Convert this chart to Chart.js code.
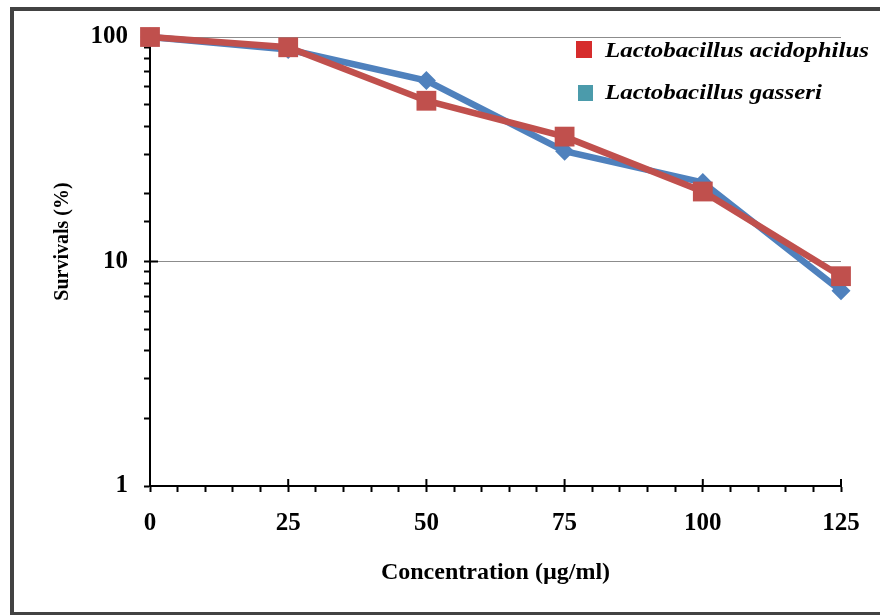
<!DOCTYPE html>
<html><head><meta charset="utf-8">
<script src="https://cdn.jsdelivr.net/npm/chart.js@4.4.1/dist/chart.umd.min.js"></script>
<style>
html,body{margin:0;padding:0;background:#fff;overflow:hidden;width:880px;height:615px;}
#frame{position:absolute;left:10px;top:7px;width:900px;height:601px;border:4px solid #424242;}
#c{position:absolute;left:0;top:0;}
</style></head><body>
<div id="frame"></div>
<canvas id="c" width="880" height="615"></canvas>
<script>
const concentrations = [0, 25, 50, 75, 100, 125];
const acidophilus = [100, 90, 52, 36, 20.5, 8.6];
const gasseri = [100, 88, 64, 31, 22.5, 7.4];
const seriesNames = ['Lactobacillus acidophilus', 'Lactobacillus gasseri'];
const lineColors = ['#c0504d', '#4f81bd'];
const legendColors = ['#d62c2c', '#4b9bab'];
const yTickLabels = [1, 10, 100];
const xTickLabels = [0, 25, 50, 75, 100, 125];
const xTitle = 'Concentration (\u00b5g/ml)';
const yTitle = 'Survivals (%)';

const serif = '"Liberation Serif", "Times New Roman", serif';

const extras = {
  id: 'extras',
  beforeDatasetsDraw(chart) {
    const ctx = chart.ctx, a = chart.chartArea, xs = chart.scales.x, ys = chart.scales.y;
    ctx.save();
    ctx.strokeStyle = '#000';
    ctx.lineWidth = 2;
    ctx.beginPath();
    yTickLabels.forEach(v => {
      if (v === yTickLabels[0]) return;
      const p = ys.getPixelForValue(v);
      ctx.moveTo(a.left, p); ctx.lineTo(a.left + 8, p);
    });
    xTickLabels.forEach(v => {
      if (v === xTickLabels[0]) return;
      const p = xs.getPixelForValue(v);
      ctx.moveTo(p, a.bottom); ctx.lineTo(p, a.bottom - 7);
    });
    ctx.stroke();
    ctx.restore();
  },
  afterDraw(chart) {
    const ctx = chart.ctx;
    ctx.save();
    ctx.font = 'italic bold 21px ' + serif;
    ctx.fillStyle = '#000';
    ctx.textBaseline = 'alphabetic';
    const w0 = ctx.measureText(seriesNames[0]).width;
    const sx = 264 / w0;
    const rows = [{sq: [576, 41, 16, 17], tx: 605, ty: 57}, {sq: [578, 85, 15, 16], tx: 605, ty: 99}];
    seriesNames.forEach((name, i) => {
      const r = rows[i];
      ctx.fillStyle = legendColors[i];
      ctx.fillRect(r.sq[0], r.sq[1], r.sq[2], r.sq[3]);
      ctx.fillStyle = '#000';
      ctx.save();
      ctx.translate(r.tx, r.ty);
      ctx.scale(sx, 1);
      ctx.fillText(name, 0, 0);
      ctx.restore();
    });
    ctx.restore();
  }
};

new Chart(document.getElementById('c'), {
  type: 'line',
  data: {
    datasets: [
      {
        label: seriesNames[0],
        data: concentrations.map((c, i) => ({x: c, y: acidophilus[i]})),
        borderColor: lineColors[0],
        backgroundColor: lineColors[0],
        borderWidth: 6.5,
        pointStyle: 'rect',
        pointRadius: 14,
        pointHoverRadius: 14,
        pointBorderWidth: 0,
        clip: false,
        tension: 0
      },
      {
        label: seriesNames[1],
        data: concentrations.map((c, i) => ({x: c, y: gasseri[i]})),
        borderColor: lineColors[1],
        backgroundColor: lineColors[1],
        borderWidth: 6.5,
        pointStyle: 'rectRot',
        pointRadius: 9.5,
        pointHoverRadius: 9.5,
        pointBorderWidth: 0,
        clip: false,
        tension: 0
      }
    ]
  },
  options: {
    responsive: false,
    animation: false,
    events: [],
    layout: {padding: {top: 37, right: 39, left: 0, bottom: 0}},
    plugins: {legend: {display: false}, tooltip: {enabled: false}},
    scales: {
      x: {
        type: 'linear',
        min: 0, max: 125,
        afterFit: s => { s.height = 129; },
        border: {display: true, color: '#000', width: 2},
        grid: {color: 'rgba(0,0,0,0)', tickColor: '#000', tickLength: 6, tickWidth: 2, drawOnChartArea: false},
        ticks: {
          stepSize: 5, autoSkip: false, maxRotation: 0, padding: 17,
          color: '#000', font: {family: serif, size: 25, weight: 'bold'},
          callback: v => xTickLabels.includes(v) ? String(v) : ''
        },
        title: {display: true, text: xTitle, color: '#000', font: {family: serif, size: 24, weight: 'bold'}, padding: {top: 0, bottom: 28}}
      },
      y: {
        type: 'logarithmic',
        min: 1, max: 100,
        afterFit: s => { s.width = 150; },
        border: {display: true, color: '#000', width: 2},
        grid: {
          color: c => (c.tick && (c.tick.value === 10 || c.tick.value === 100)) ? '#8c8c8c' : 'rgba(0,0,0,0)',
          tickColor: '#000', tickLength: 6, tickWidth: 2, lineWidth: 1
        },
        ticks: {
          autoSkip: false, padding: 16,
          color: '#000', font: {family: serif, size: 25, weight: 'bold'},
          callback: v => yTickLabels.includes(v) ? String(v) : ''
        },
        title: {display: true, text: '        ' + yTitle, color: '#000', font: {family: serif, size: 20, weight: 'bold'}, padding: {top: 51, bottom: 0}}
      }
    }
  },
  plugins: [extras]
});
</script>
</body></html>
